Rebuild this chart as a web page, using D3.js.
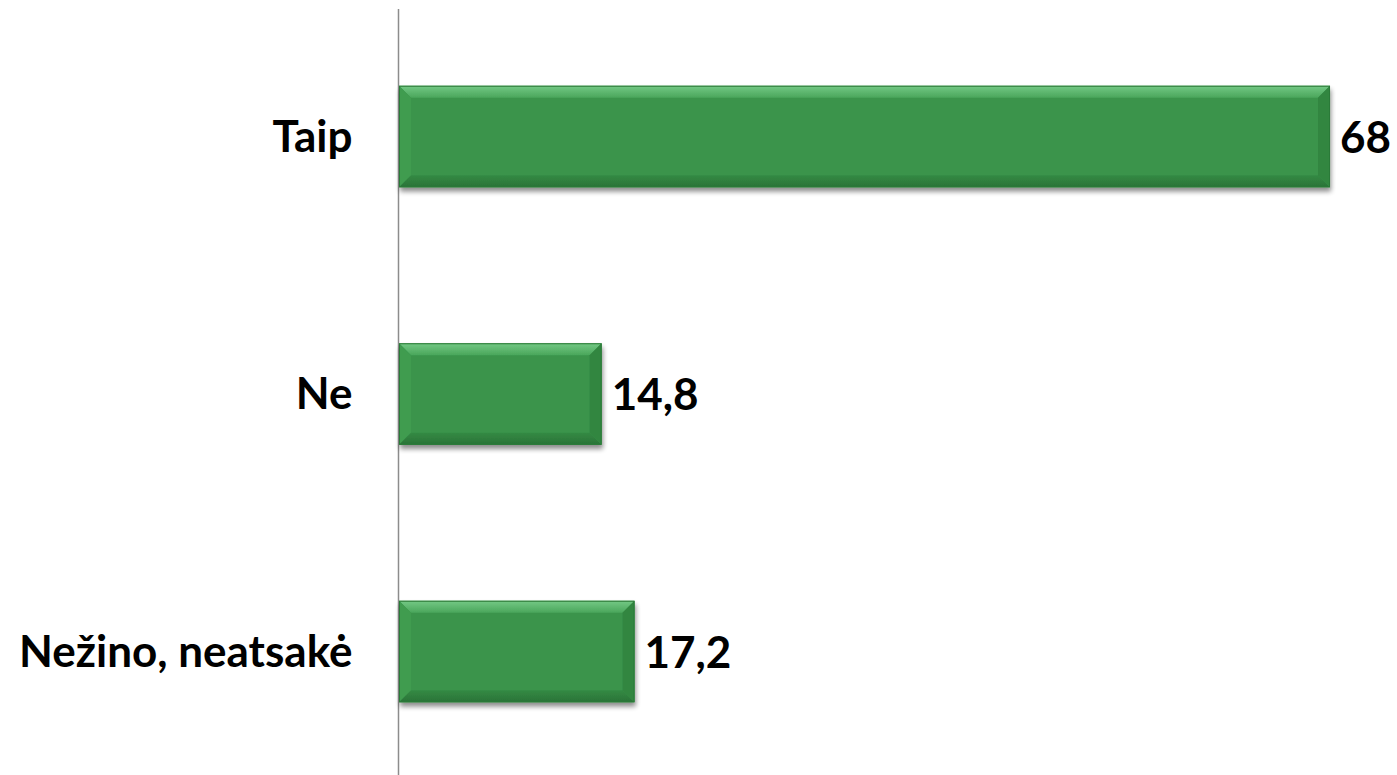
<!DOCTYPE html>
<html><head><meta charset="utf-8">
<script src="https://cdn.jsdelivr.net/npm/d3@7"></script>
<style>html,body{margin:0;padding:0;background:#fff;overflow:hidden}</style>
</head><body>
<svg id="c" width="1397" height="775"></svg>
<script>
const categories = ["Taip", "Ne", "Nežino, neatsakė"];
const values = [68, 14.8, 17.2];
const valueLabels = ["68", "14,8", "17,2"];

const svg = d3.select("#c");
const W = 1397, H = 775;
const fontFam = "Lato, 'Open Sans', sans-serif";
const fs = 44;

const x = d3.scaleLinear().domain([0, 70]).range([399, 1357.4]);
const y = d3.scaleBand().domain(categories).range([7.75, 780.25])
  .paddingInner(0.606).paddingOuter(0.303);

const defs = svg.append("defs");
const f = defs.append("filter").attr("id","sh").attr("x","-5%").attr("y","-20%").attr("width","110%").attr("height","150%");
f.append("feGaussianBlur").attr("in","SourceAlpha").attr("stdDeviation",2.5).attr("result","b");
f.append("feOffset").attr("in","b").attr("dx",1).attr("dy",4).attr("result","o");
f.append("feComponentTransfer").attr("in","o").attr("result","o2")
  .append("feFuncA").attr("type","linear").attr("slope",0.45);
const m = f.append("feMerge");
m.append("feMergeNode").attr("in","o2");
m.append("feMergeNode").attr("in","SourceGraphic");

const gT = defs.append("linearGradient").attr("id","gTop").attr("x1",0).attr("y1",0).attr("x2",0).attr("y2",1);
gT.append("stop").attr("offset",0).attr("stop-color","#74c985");
gT.append("stop").attr("offset",1).attr("stop-color","#4aa65b");
const gB = defs.append("linearGradient").attr("id","gBot").attr("x1",0).attr("y1",0).attr("x2",0).attr("y2",1);
gB.append("stop").attr("offset",0).attr("stop-color","#348a44");
gB.append("stop").attr("offset",1).attr("stop-color","#2a7337");

// axis
const yAxis = d3.axisLeft(y).tickSize(0).tickPadding(46);
const ax = svg.append("g").attr("transform","translate(398.5,0)").call(yAxis);
ax.select(".domain").attr("stroke","#8c8c8c").attr("stroke-width",1.5)
  .attr("d", `M0,9V${H}`);
ax.selectAll(".tick text").attr("font-family",fontFam).attr("font-weight","bold")
  .attr("font-size",fs).attr("fill","#000").attr("dy",null)
  .attr("dominant-baseline","auto").attr("y",15);

const b = 12;
const bars = svg.append("g").selectAll("g").data(categories).join("g").attr("filter","url(#sh)");
bars.each(function(c, i){
  const g = d3.select(this);
  const x0 = x(0), x1 = x(values[i]), y0 = y(c), y1 = y(c) + y.bandwidth();
  g.append("rect").attr("x",x0).attr("y",y0).attr("width",x1-x0).attr("height",y1-y0).attr("fill","#3a944b");
  const poly = (pts, fill) => g.append("polygon").attr("points", pts.map(p=>p.join(",")).join(" ")).attr("fill", fill);
  poly([[x0,y0],[x1,y0],[x1-b,y0+b],[x0+b,y0+b]], "url(#gTop)");
  poly([[x0,y0],[x0+b,y0+b],[x0+b,y1-b],[x0,y1]], "#3f9c50");
  poly([[x0,y1],[x0+b,y1-b],[x1-b,y1-b],[x1,y1]], "url(#gBot)");
  poly([[x1,y0],[x1-b,y0+b],[x1-b,y1-b],[x1,y1]], "#328641");
  g.append("rect").attr("x",x0+0.5).attr("y",y0+0.5).attr("width",x1-x0-1).attr("height",y1-y0-1)
    .attr("fill","none").attr("stroke","#2c7a39").attr("stroke-width",1);
});

svg.append("g").selectAll("text").data(categories).join("text")
  .attr("x", (c,i) => x(values[i]) + 10)
  .attr("y", c => y(c) + y.bandwidth()/2 + 16)
  .attr("font-family",fontFam).attr("font-weight","bold").attr("font-size",fs).attr("fill","#000")
  .text((c,i) => valueLabels[i]);
</script>
</body></html>
